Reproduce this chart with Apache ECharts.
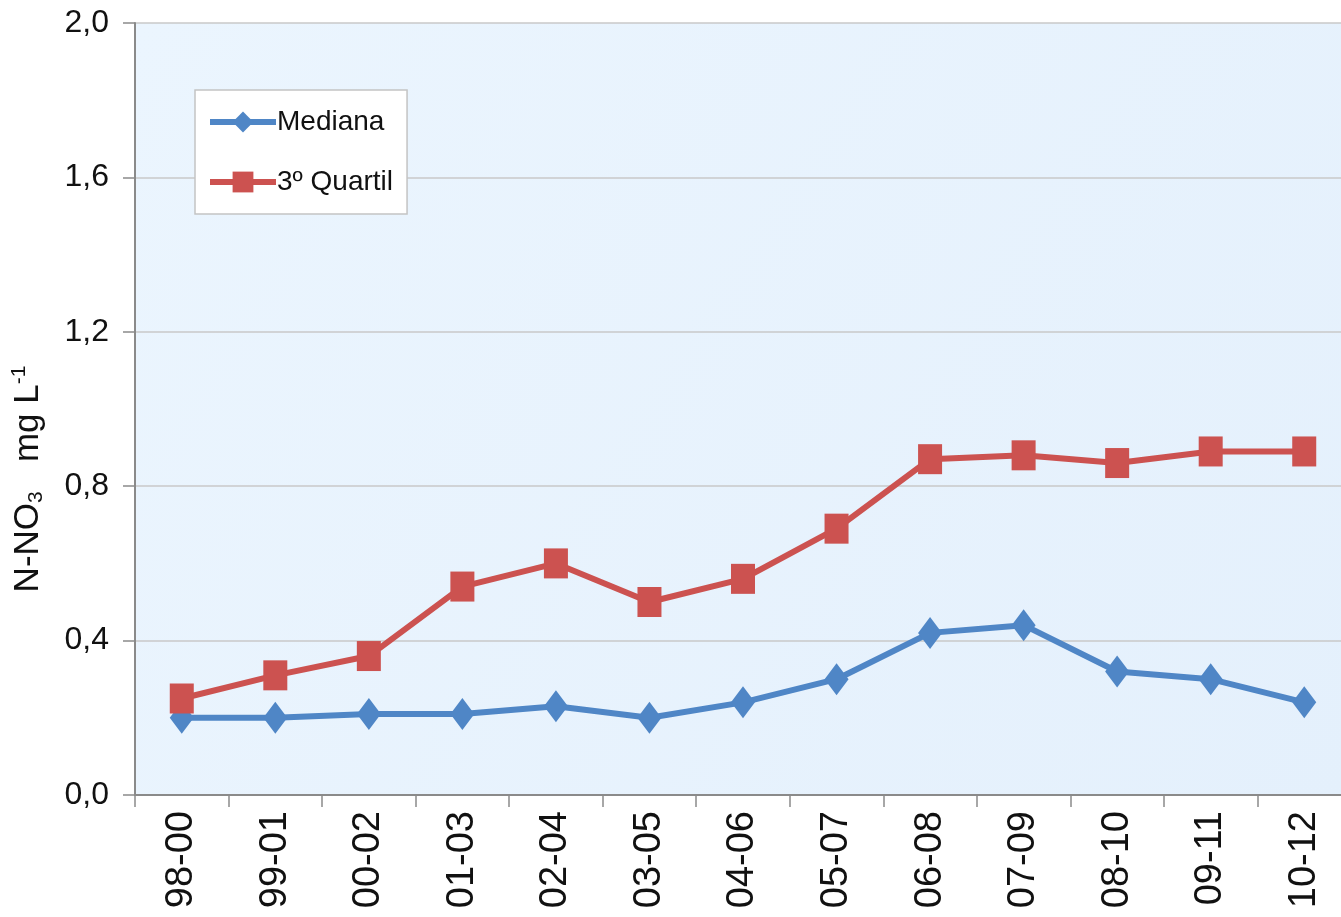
<!DOCTYPE html>
<html>
<head>
<meta charset="utf-8">
<title>N-NO3</title>
<script src="https://cdn.jsdelivr.net/npm/echarts@6/dist/echarts.min.js"></script>
<style>
  html, body { margin: 0; padding: 0; background: #fff; }
  #chart { width: 1341px; height: 917px; }
</style>
</head>
<body>
<div id="chart"></div>
<script>
  // periodos
  var categories = ['98-00', '99-01', '00-02', '01-03', '02-04', '03-05', '04-06',
    '05-07', '06-08', '07-09', '08-10', '09-11', '10-12'];
  // valores (mg/L)
  var mediana = [0.20, 0.20, 0.21, 0.21, 0.23, 0.20, 0.24, 0.30, 0.42, 0.44, 0.32, 0.30, 0.24];
  var quartil3 = [0.25, 0.31, 0.36, 0.54, 0.60, 0.50, 0.56, 0.69, 0.87, 0.88, 0.86, 0.89, 0.89];
  var yTicks = { min: 0, max: 2, interval: 0.4 };

  var myChart = echarts.init(document.getElementById('chart'));
  var fontFam = '"Liberation Sans", Arial, sans-serif';

  var option = {
    animation: false,
    textStyle: { fontFamily: fontFam },
    legend: {
      orient: 'vertical',
      left: 195,
      top: 90,
      padding: [18, 14, 18, 12],
      itemGap: 32,
      itemWidth: 66,
      itemHeight: 26,
      backgroundColor: '#ffffff',
      borderColor: '#c4c4c4',
      borderWidth: 1.5,
      lineStyle: { width: 6 },
      textStyle: { fontSize: 28, color: '#111', fontFamily: fontFam, padding: [0, 0, 0, -4] },
      data: ['Mediana', '3º Quartil']
    },
    grid: {
      left: 135,
      right: -10,
      top: 23,
      bottom: 122,
      outerBoundsMode: 'none',
      show: true,
      borderWidth: 0,
      backgroundColor: new echarts.graphic.LinearGradient(0, 0, 1, 1, [
        { offset: 0, color: '#ebf5fe' },
        { offset: 1, color: '#e4f0fc' }
      ])
    },
    xAxis: {
      type: 'category',
      data: categories,
      boundaryGap: true,
      axisLine: { lineStyle: { color: '#8a8a8a', width: 2 } },
      axisTick: { show: true, length: 12, lineStyle: { color: '#8a8a8a', width: 1.5 } },
      axisLabel: {
        rotate: 90,
        interval: 0,
        margin: 16,
        fontSize: 38,
        color: '#111',
        fontFamily: fontFam
      },
      splitLine: { show: false }
    },
    yAxis: {
      type: 'value',
      min: yTicks.min,
      max: yTicks.max,
      interval: yTicks.interval,
      name: '{a|N-NO}{s|3}{a|   mg L}{p|-1}',
      nameLocation: 'middle',
      nameGap: 88,
      nameRotate: 90,
      nameTextStyle: {
        padding: [0, 140, 0, 0],
        rich: {
          a: { fontSize: 35, color: '#111', fontFamily: fontFam },
          s: { fontSize: 21, color: '#111', fontFamily: fontFam, padding: [17, 0, 0, 0] },
          p: { fontSize: 21, color: '#111', fontFamily: fontFam, padding: [0, 0, 17, 0] }
        }
      },
      axisLine: { show: true, lineStyle: { color: '#8a8a8a', width: 2 } },
      axisTick: { show: true, length: 12, lineStyle: { color: '#8a8a8a', width: 1.5 } },
      axisLabel: {
        margin: 26,
        fontSize: 32,
        color: '#111',
        fontFamily: fontFam,
        formatter: function (v) { return v.toFixed(1).replace('.', ','); }
      },
      splitLine: { show: true, lineStyle: { color: '#c8c8c8', width: 1.5 } }
    },
    series: [{
      name: 'Mediana',
      type: 'line',
      data: mediana,
      symbol: 'diamond',
      symbolSize: [24, 32],
      color: '#4f86c6',
      lineStyle: { width: 6, color: '#4f86c6' },
      itemStyle: { color: '#4f86c6' },
      z: 3
    }, {
      name: '3º Quartil',
      type: 'line',
      data: quartil3,
      symbol: 'rect',
      symbolSize: [24, 30],
      color: '#cc5250',
      lineStyle: { width: 6, color: '#cc5250' },
      itemStyle: { color: '#cc5250' },
      z: 4
    }]
  };

  myChart.setOption(option);
</script>
</body>
</html>
